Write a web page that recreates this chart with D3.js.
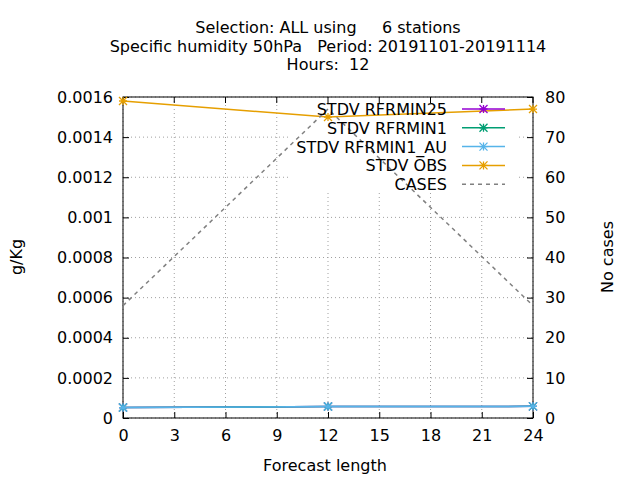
<!DOCTYPE html><html><head><meta charset="utf-8">
<script src="https://cdn.jsdelivr.net/npm/d3@7"></script>
<style>body{margin:0;background:#fff}text{font-family:"DejaVu Sans",sans-serif;font-size:16px;white-space:pre}</style>
</head><body><svg id="c" width="640" height="480"></svg>
<script>
const hours=[0,12,24];
const xTicks=[0,3,6,9,12,15,18,21,24];
const yTicks=[0,0.0002,0.0004,0.0006,0.0008,0.001,0.0012,0.0014,0.0016];
const yTickLabels=["0","0.0002","0.0004","0.0006","0.0008","0.001","0.0012","0.0014","0.0016"];
const y2Ticks=[0,10,20,30,40,50,60,70,80];
const rfrmin25=[0.000052,0.000057,0.000058];
const rfrmin1=[0.000052,0.000057,0.000058];
const rfrmin1au=[0.000052,0.000057,0.000058];
const obs=[0.00158,0.00150,0.00154];
const cases=[28,77,28];
const titles=["Selection: ALL using     6 stations","Specific humidity 50hPa   Period: 20191101-20191114","Hours:  12"];
const svg=d3.select("#c");
const x=d3.scaleLinear().domain([0,24]).range([123,533]);
const y=d3.scaleLinear().domain([0,0.0016]).range([418,97]);
const y2=d3.scaleLinear().domain([0,80]).range([418,97]);
const g=svg.append("g");
xTicks.forEach(t=>g.append("line").attr("x1",x(t)).attr("x2",x(t)).attr("y1",97).attr("y2",418).attr("stroke","#a0a0a0").attr("stroke-dasharray","1,3"));
yTicks.forEach(t=>g.append("line").attr("x1",123).attr("x2",533).attr("y1",y(t)).attr("y2",y(t)).attr("stroke","#a0a0a0").attr("stroke-dasharray","1,3"));
svg.append("rect").attr("x",290).attr("y",100).attr("width",227).attr("height",92).attr("fill","#fff");
svg.append("rect").attr("x",123).attr("y",97).attr("width",410).attr("height",321).attr("fill","none").attr("stroke","#000");
const fs=a=>a.selectAll("text").attr("font-size",16).attr("font-family","DejaVu Sans");
svg.append("g").attr("transform","translate(0,418)").call(d3.axisBottom(x).tickValues(xTicks).tickSize(-6).tickPadding(12)).call(a=>{a.select(".domain").remove();fs(a)});
svg.append("g").attr("transform","translate(123,0)").call(d3.axisLeft(y).tickValues(yTicks).tickFormat((d,i)=>yTickLabels[i]).tickSize(-6).tickPadding(10)).call(a=>{a.select(".domain").remove();fs(a)});
svg.append("g").attr("transform","translate(533,0)").call(d3.axisRight(y2).tickValues(y2Ticks).tickSize(-6).tickPadding(12)).call(a=>{a.select(".domain").remove();fs(a)});
xTicks.forEach(t=>svg.append("line").attr("x1",x(t)).attr("x2",x(t)).attr("y1",97).attr("y2",103).attr("stroke","#000"));
titles.forEach((t,i)=>svg.append("text").attr("x",328).attr("y",33+i*18.5).attr("text-anchor","middle").text(t));
svg.append("text").attr("x",325).attr("y",471).attr("text-anchor","middle").text("Forecast length");
svg.append("text").attr("transform","translate(22,257) rotate(-90)").attr("text-anchor","middle").text("g/Kg");
svg.append("text").attr("transform","translate(613,257) rotate(-90)").attr("text-anchor","middle").text("No cases");
function star(sel,cx,cy,col){const s=4;sel.append("path").attr("d",`M${cx-s},${cy}H${cx+s}M${cx},${cy-s}V${cy+s}M${cx-s},${cy-s}L${cx+s},${cy+s}M${cx-s},${cy+s}L${cx+s},${cy-s}`).attr("stroke",col).attr("stroke-width",1.3);}
const series=[
 {name:"STDV RFRMIN25",v:rfrmin25,c:"#9400d3"},
 {name:"STDV RFRMIN1",v:rfrmin1,c:"#009e73"},
 {name:"STDV RFRMIN1_AU",v:rfrmin1au,c:"#56b4e9"},
 {name:"STDV OBS",v:obs,c:"#e69f00"}];
const line=d3.line().x((d,i)=>x(hours[i])).y(d=>y(d));
series.forEach(s=>{svg.append("path").attr("d",line(s.v)).attr("fill","none").attr("stroke",s.c).attr("stroke-width",1.5);s.v.forEach((d,i)=>star(svg,x(hours[i]),y(d),s.c));});
svg.append("path").attr("d",d3.line().x((d,i)=>x(hours[i])).y(d=>y2(d))(cases)).attr("fill","none").attr("stroke","#808080").attr("stroke-width",1.5).attr("stroke-dasharray","4,4");
series.concat([{name:"CASES",c:"#808080",dash:true}]).forEach((s,i)=>{const yy=109+i*18.8;
 svg.append("text").attr("x",447).attr("y",yy+6).attr("text-anchor","end").text(s.name);
 const l=svg.append("line").attr("x1",462).attr("x2",505).attr("y1",yy).attr("y2",yy).attr("stroke",s.c).attr("stroke-width",1.5);
 if(s.dash)l.attr("stroke-dasharray","4,4");else star(svg,483.5,yy,s.c);});
</script></body></html>
